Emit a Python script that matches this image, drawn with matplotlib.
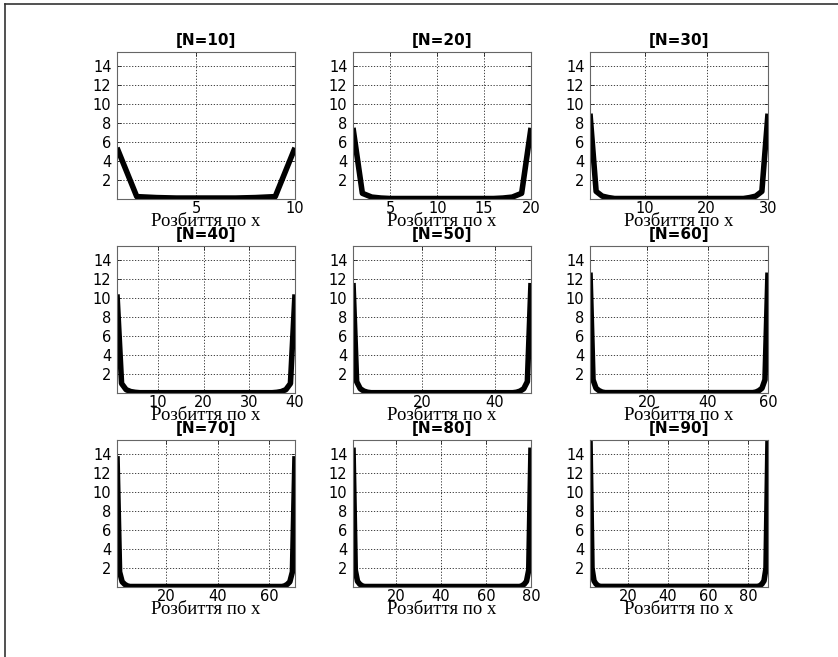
import matplotlib
matplotlib.use("Agg")
import matplotlib.pyplot as plt
from matplotlib.lines import Line2D

plt.rcParams["font.family"] = ["DejaVu Sans"]

# values
nValues = [10, 20, 30, 40, 50, 60, 70, 80, 90]

# values at the first grid nodes from the boundary (x = 1, 2, 3, ...);
# the curves are symmetric, the middle part is flat
edgeValues = {
    10: [5.4, 0.25, 0.15, 0.1],
    20: [7.5, 0.6, 0.2, 0.1, 0.05],
    30: [9.0, 0.8, 0.3, 0.15, 0.05],
    40: [10.4, 1.0, 0.35, 0.15, 0.07, 0.03],
    50: [11.6, 1.2, 0.45, 0.2, 0.08, 0.03],
    60: [12.7, 1.4, 0.5, 0.25, 0.1, 0.04],
    70: [13.8, 1.6, 0.55, 0.28, 0.12, 0.05],
    80: [14.7, 1.8, 0.6, 0.3, 0.13, 0.05],
    90: [15.5, 2.0, 0.65, 0.32, 0.15, 0.06],
}
xTicks = {
    10: [5, 10], 20: [5, 10, 15, 20], 30: [10, 20, 30],
    40: [10, 20, 30, 40], 50: [20, 40], 60: [20, 40, 60],
    70: [20, 40, 60], 80: [20, 40, 60, 80], 90: [20, 40, 60, 80],
}
yTicks = [2, 4, 6, 8, 10, 12, 14]
xLabel = "Розбиття по х"

W, H = 838, 657
fig = plt.figure(figsize=(W / 100, H / 100), dpi=100)

colLefts = [117, 353, 590]
rowTops = [52, 246, 440]
axW, axH = 178, 147

for idx, n in enumerate(nValues):
    row, col = idx // 3, idx % 3
    edge = edgeValues[n]
    k = len(edge)
    xs = list(range(1, k + 1)) + list(range(n - k + 1, n + 1))
    ys = edge + edge[::-1]

    left = colLefts[col] / W
    bottom = 1 - (rowTops[row] + axH) / H
    ax = fig.add_axes([left, bottom, axW / W, axH / H])
    ax.plot(xs, ys, color="black", linewidth=4, solid_joinstyle="round",
            solid_capstyle="butt")
    ax.set_xlim(1, n)
    ax.set_ylim(0, 15.5)
    ax.set_xticks(xTicks[n])
    ax.set_yticks(yTicks)
    ax.grid(True, color="#222222", linestyle=(0, (1.5, 2)), linewidth=0.6)
    ax.tick_params(direction="in", length=3, width=0.5, labelsize=10.5,
                   top=True, right=True)
    ax.tick_params(axis="x", pad=1.5)
    ax.tick_params(axis="y", pad=4)
    for sp in ax.spines.values():
        sp.set_linewidth(0.8)
        sp.set_color("#666666")
    ax.set_title("[N={0}]".format(n), fontsize=11, fontweight="bold", pad=5)
    ax.set_xlabel(xLabel, family="Liberation Serif", fontsize=13.5, labelpad=-2.5)

# page frame (top and left edge)
fig.add_artist(Line2D([5 / W, 1], [1 - 4 / H, 1 - 4 / H], color="#333333", linewidth=1.2))
fig.add_artist(Line2D([5 / W, 5 / W], [0, 1 - 4 / H], color="#333333", linewidth=1.2))

fig.savefig("out.png", dpi=100, facecolor="white")
